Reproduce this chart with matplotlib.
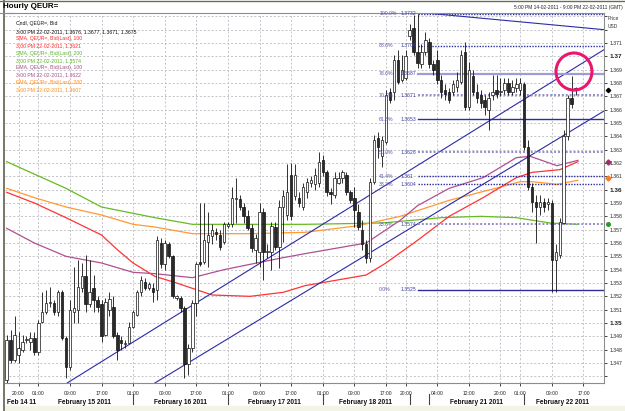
import matplotlib
matplotlib.use('Agg')
import matplotlib.pyplot as plt
import matplotlib.transforms as mtransforms
from matplotlib.patches import Ellipse, Rectangle
from matplotlib.lines import Line2D
import numpy as np

plt.rcParams['font.family'] = ['Liberation Sans', 'DejaVu Sans']

# ---------------- data ----------------
opens = [
1.3457,1.3487,1.3472,1.3476,1.3480,1.3487,1.3486,1.3489,1.3478,1.3501,
1.3508,1.3515,1.3515,1.3508,1.3523,1.3489,1.3467,1.3508,1.3510,1.3526,
1.3535,1.3514,1.3526,1.3517,1.3514,1.3491,1.3510,1.3512,1.3491,1.3487,
1.3484,1.3485,1.3497,1.3506,1.3523,1.3531,1.3526,1.3526,1.3525,1.3560,
1.3544,1.3559,1.3550,1.3519,1.3519,1.3511,1.3469,1.3481,1.3515,1.3546,
1.3546,1.3561,1.3565,1.3568,1.3566,1.3561,1.3573,1.3574,1.3593,1.3593,
1.3587,1.3580,1.3571,1.3555,1.3553,1.3583,1.3553,1.3553,1.3572,1.3557,
1.3587,1.3581,1.3611,1.3595,1.3594,1.3587,1.3598,1.3605,1.3604,1.3605,
1.3622,1.3613,1.3598,1.3596,1.3605,1.3609,1.3611,1.3598,1.3594,1.3583,
1.3570,1.3559,1.3549,1.3606,1.3639,1.3625,1.3636,1.3673,1.3673,1.3697,
1.3682,1.3684,1.3715,1.3721,1.3703,1.3694,1.3703,1.3711,1.3694,1.3697,
1.3682,1.3675,1.3673,1.3673,1.3677,1.3681,1.3703,1.3662,1.3685,1.3673,
1.3671,1.3667,1.3660,1.3671,1.3675,1.3673,1.3675,1.3680,1.3673,1.3676,
1.3675,1.3679,1.3632,1.3602,1.3591,1.3587,1.3591,1.3589,1.3590,1.3547,
1.3551,1.3575,1.3640,1.3669,1.3676]
highs = [
1.3491,1.3495,1.3505,1.3493,1.3491,1.3490,1.3493,1.3493,1.3502,1.3523,
1.3525,1.3527,1.3517,1.3525,1.3525,1.3490,1.3517,1.3542,1.3547,1.3545,
1.3551,1.3547,1.3536,1.3520,1.3517,1.3519,1.3523,1.3520,1.3493,1.3490,
1.3487,1.3501,1.3510,1.3525,1.3535,1.3534,1.3531,1.3530,1.3565,1.3564,
1.3562,1.3561,1.3551,1.3521,1.3520,1.3513,1.3484,1.3517,1.3546,1.3590,
1.3590,1.3583,1.3574,1.3571,1.3570,1.3576,1.3576,1.3602,1.3609,1.3596,
1.3590,1.3585,1.3574,1.3567,1.3590,1.3586,1.3559,1.3576,1.3576,1.3592,
1.3600,1.3619,1.3620,1.3619,1.3598,1.3605,1.3609,1.3610,1.3616,1.3628,
1.3626,1.3615,1.3601,1.3613,1.3613,1.3615,1.3613,1.3600,1.3602,1.3589,
1.3577,1.3562,1.3609,1.3641,1.3643,1.3640,1.3675,1.3676,1.3701,1.3705,
1.3701,1.3705,1.3724,1.3731,1.3732,1.3709,1.3718,1.3714,1.3697,1.3705,
1.3686,1.3679,1.3676,1.3682,1.3688,1.3705,1.3711,1.3696,1.3690,1.3679,
1.3675,1.3671,1.3673,1.3686,1.3686,1.3684,1.3684,1.3684,1.3682,1.3684,
1.3684,1.3681,1.3637,1.3605,1.3596,1.3596,1.3594,1.3594,1.3592,1.3559,
1.3579,1.3645,1.3671,1.3685,1.3677]
lows = [
1.3455,1.3470,1.3471,1.3470,1.3478,1.3485,1.3480,1.3476,1.3476,1.3500,
1.3507,1.3512,1.3506,1.3505,1.3487,1.3459,1.3465,1.3500,1.3500,1.3523,
1.3508,1.3512,1.3508,1.3508,1.3486,1.3490,1.3505,1.3489,1.3472,1.3480,
1.3481,1.3484,1.3496,1.3505,1.3520,1.3525,1.3525,1.3516,1.3517,1.3541,
1.3540,1.3549,1.3519,1.3517,1.3508,1.3459,1.3461,1.3478,1.3505,1.3543,
1.3544,1.3542,1.3559,1.3562,1.3555,1.3559,1.3571,1.3572,1.3575,1.3585,
1.3575,1.3570,1.3553,1.3545,1.3542,1.3532,1.3549,1.3540,1.3555,1.3541,
1.3561,1.3577,1.3577,1.3592,1.3587,1.3585,1.3594,1.3602,1.3600,1.3602,
1.3610,1.3595,1.3589,1.3594,1.3604,1.3605,1.3596,1.3590,1.3572,1.3570,
1.3555,1.3545,1.3546,1.3604,1.3624,1.3617,1.3634,1.3665,1.3667,1.3679,
1.3681,1.3682,1.3712,1.3701,1.3691,1.3691,1.3701,1.3691,1.3686,1.3679,
1.3669,1.3667,1.3665,1.3671,1.3673,1.3679,1.3660,1.3660,1.3671,1.3665,
1.3661,1.3656,1.3645,1.3667,1.3669,1.3670,1.3672,1.3671,1.3671,1.3673,
1.3671,1.3630,1.3600,1.3583,1.3560,1.3581,1.3583,1.3585,1.3523,1.3523,
1.3549,1.3574,1.3637,1.3661,1.3671]
closes = [
1.3487,1.3472,1.3491,1.3481,1.3486,1.3488,1.3489,1.3478,1.3500,1.3508,
1.3515,1.3516,1.3508,1.3523,1.3489,1.3467,1.3510,1.3511,1.3527,1.3535,
1.3514,1.3523,1.3517,1.3512,1.3490,1.3516,1.3518,1.3490,1.3480,1.3485,
1.3485,1.3497,1.3508,1.3523,1.3532,1.3526,1.3529,1.3523,1.3562,1.3544,
1.3560,1.3550,1.3520,1.3520,1.3511,1.3469,1.3481,1.3515,1.3544,1.3544,
1.3562,1.3566,1.3570,1.3567,1.3557,1.3574,1.3574,1.3594,1.3594,1.3587,
1.3580,1.3571,1.3556,1.3564,1.3583,1.3553,1.3554,1.3573,1.3557,1.3587,
1.3595,1.3598,1.3580,1.3611,1.3590,1.3602,1.3606,1.3607,1.3611,1.3621,
1.3613,1.3598,1.3597,1.3609,1.3609,1.3613,1.3598,1.3592,1.3585,1.3572,
1.3559,1.3549,1.3606,1.3637,1.3632,1.3637,1.3671,1.3667,1.3697,1.3681,
1.3690,1.3700,1.3720,1.3703,1.3695,1.3703,1.3712,1.3694,1.3690,1.3682,
1.3673,1.3672,1.3667,1.3679,1.3682,1.3701,1.3662,1.3690,1.3673,1.3669,
1.3665,1.3662,1.3669,1.3673,1.3672,1.3674,1.3680,1.3673,1.3677,1.3679,
1.3680,1.3632,1.3602,1.3591,1.3587,1.3591,1.3587,1.3591,1.3547,1.3553,
1.3576,1.3640,1.3669,1.3664,1.3675]

# moving averages (bar index, price)
sma100_x = [0, 7, 15, 24, 28, 32, 37.5, 43, 52, 61.6, 70, 75.5, 91, 96, 104, 112, 120.6, 129, 133, 140, 144.6]
sma100_y = [1.3598, 1.3590, 1.3579, 1.3566, 1.3555, 1.3545, 1.3535, 1.3530, 1.3521, 1.3520, 1.3523,
            1.3528, 1.3536, 1.3545, 1.3562, 1.3580, 1.3594, 1.3609, 1.3613, 1.3615, 1.3621]
sma200_x = [0, 15, 24, 37.5, 47, 61.6, 75.5, 95, 110, 120, 129, 137.5, 144.6]
sma200_y = [1.3621, 1.3601, 1.3587, 1.3579, 1.3574, 1.3574, 1.3574, 1.3575, 1.3579, 1.3580, 1.3579, 1.3575, 1.3574]
ema100_x = [0, 7, 15, 24, 32, 37.5, 47, 55, 61.6, 70, 75.5, 91, 99.6, 104, 112, 120.6, 129, 132.5, 139.3, 144.6]
ema100_y = [1.3571, 1.3560, 1.3550, 1.3545, 1.3538, 1.3537, 1.3534, 1.3540, 1.3544, 1.3549, 1.3552,
            1.3560, 1.3577, 1.3588, 1.3601, 1.3609, 1.3624, 1.3625, 1.3618, 1.3622]
ema200_x = [0, 7, 15, 24, 32, 37.5, 47, 61.6, 75.5, 89, 99.6, 112, 125, 130, 133, 139.3, 144.6]
ema200_y = [1.3601, 1.3594, 1.3587, 1.3581, 1.3574, 1.3572, 1.3567, 1.3567, 1.3568, 1.3573, 1.3580,
            1.3592, 1.3602, 1.3606, 1.3606, 1.3604, 1.3607]

# Fibonacci retracement
fib_pcts = ['100.0%', '88.6%', '78.6%', '70.7%', '61.8%', '50.0%', '41.4%', '38.2%', '23.6%', '0.0%']
fib_vals = [1.3732, 1.3708, 1.3687, 1.3671, 1.3653, 1.3628, 1.3610, 1.3604, 1.3574, 1.3525]
fib_txt = ['1.3732', '1.3708', '1.3687', '1.3671', '1.3653', '1.3628', '1.361', '1.3604', '1.3574', '1.3525']
fib_kind = ['dd', 'dd', 'ls', 'ld', 'sd', 'ld', 'dd', 'dd', 'ld', 'sd']

# trend lines (bar index, price)
trend_lines = [((15.3, 1.3455), (151.2, 1.3705)),
               ((37.5, 1.3455), (151.2, 1.3659)),
               ((107.9, 1.3732), (151.2, 1.3720))]

# x axis
tick_pos = [3, 8, 16, 24, 32, 40, 48, 56, 64, 72, 80, 88, 96, 101, 109, 117, 125, 130, 138, 146]
tick_lab = ['20:00', '01:00', '09:00', '17:00', '01:00', '09:00', '17:00', '01:00', '09:00', '17:00',
            '01:00', '09:00', '17:00', '20:00', '04:00', '12:00', '20:00', '01:00', '09:00', '17:00']
date_lab = ['Feb 14 11', 'February 15 2011', 'February 16 2011', 'February 17 2011',
            'February 18 2011', 'February 21 2011', 'February 22 2011']
date_pos = [0.1, 19.8, 43.9, 67.9, 90.7, 118.8, 140.8]
sep_pos = [32, 56, 80, 102, 107, 131]

yticks = [round(1.346 + 0.001 * k, 3) for k in range(28)]

legend_lines = [
    ('Cndl, QEUR=, Bid', '#111111'),
    ('3:00 PM 22-02-2011, 1.3676, 1.3677, 1.3671, 1.3675', '#111111'),
    ('SMA, QEUR=, Bid(Last), 100', '#ff2a2a'),
    ('3:00 PM 22-02-2011, 1.3621', '#ff2a2a'),
    ('SMA, QEUR=, Bid(Last), 200', '#5bb52a'),
    ('3:00 PM 22-02-2011, 1.3574', '#5bb52a'),
    ('EMA, QEUR=, Bid(Last), 100', '#a4508c'),
    ('3:00 PM 22-02-2011, 1.3622', '#a4508c'),
    ('EMA, QEUR=, Bid(Last), 200', '#ff8c1a'),
    ('3:00 PM 22-02-2011, 1.3607', '#ff8c1a'),
]

# ---------------- figure ----------------
W, H = 625, 411
fig = plt.figure(figsize=(W / 100, H / 100), dpi=100)
fig.patch.set_facecolor('white')
ax = fig.add_axes([5 / W, 1 - 383 / H, 599 / W, 370 / H])
ax.set_xlim(-0.43, 151.2)
ax.set_ylim(1.3455, 1.37325)

# grid
for yv in yticks:
    ax.axhline(yv, color='#c2c2c8', lw=0.7, ls=(0, (2, 2)), zorder=0)
for xv in tick_pos:
    ax.axvline(xv, color='#c2c2c8', lw=0.7, ls=(0, (2, 2)), zorder=0)

# moving averages
ax.plot(sma200_x, sma200_y, color='#66bb22', lw=0.9, zorder=2)
ax.plot(ema200_x, ema200_y, color='#ff9933', lw=0.9, zorder=2)
ax.plot(sma100_x, sma100_y, color='#ff3333', lw=0.9, zorder=2)
ax.plot(ema100_x, ema100_y, color='#b0508f', lw=0.9, zorder=2)

# trend lines
for (x0, y0), (x1, y1) in trend_lines:
    ax.plot([x0, x1], [y0, y1], color='#2b2ba6', lw=0.8, zorder=2)

# fibonacci
for pct, val, txt, kind in zip(fib_pcts, fib_vals, fib_txt, fib_kind):
    if kind == 'sd':
        ax.plot([104, 151.2], [val, val], color='#2d2d9e', lw=1.0, zorder=2)
    elif kind == 'dd':
        ax.plot([104, 151.2], [val, val], color='#2d2d9e', lw=1.0, ls=(0, (1, 1)), zorder=2)
    elif kind == 'ls':
        ax.plot([104, 151.2], [val, val], color='#9c9cd8', lw=1.6, zorder=2)
    else:
        ax.plot([104, 151.2], [val, val], color='#8c8cd0', lw=1.4, ls=(0, (1, 1)), zorder=2)
    ax.text(94.3, val, pct, fontsize=3.7, color='#5656a8', va='center', ha='left', zorder=5)
    ax.text(99.6, val, txt, fontsize=3.7, color='#3c3c9c', va='center', ha='left', zorder=5)

# candles
x = np.arange(len(opens))
o = np.array(opens); h = np.array(highs); l = np.array(lows); c = np.array(closes)
ax.vlines(x, l, h, color='#111111', lw=0.6, zorder=3)
up = c >= o
body = np.maximum(np.abs(c - o), 0.00005)
ax.bar(x, body, bottom=np.minimum(o, c), width=0.62,
       color=np.where(up, 'white', '#2a2a2a'), edgecolor='#111111', linewidth=0.5, zorder=4)

# highlight circle
ax.add_patch(Ellipse((143.6, 1.36886), width=9.1, height=0.00278, fill=False,
                     ec='#e8186e', lw=2.2, zorder=6))

# axes styling
for s in ['top', 'right', 'bottom']:
    ax.spines[s].set_color('#8c8c8c')
    ax.spines[s].set_linewidth(0.8)
ax.spines['left'].set_visible(False)

ax.yaxis.tick_right()
ax.set_yticks(yticks)
ylabels = []
for yv in yticks:
    if yv in (1.346, 1.372, 1.373):
        ylabels.append('')
    elif abs(yv * 100 - round(yv * 100)) < 1e-6:
        ylabels.append('%.2f' % yv)
    else:
        ylabels.append('%.3f' % yv)
ax.set_yticklabels(ylabels)
ax.tick_params(axis='y', length=2.5, width=0.6, pad=1.5, labelsize=3.7, colors='#222222')
for t, yv in zip(ax.get_yticklabels(), yticks):
    if yv in (1.37, 1.36, 1.35):
        t.set_fontweight('bold')
        t.set_fontsize(4.6)

ax.set_xticks(tick_pos)
ax.set_xticklabels(tick_lab)
ax.tick_params(axis='x', length=2, width=0.6, pad=3.5, labelsize=3.6, colors='#222222')

trans = mtransforms.blended_transform_factory(ax.transData, ax.transAxes)
for lab, pos in zip(date_lab, date_pos):
    ax.text(pos, -0.0514, lab, transform=trans, fontsize=4.7, fontweight='bold',
            ha='left' if lab.startswith('Feb 14') else 'center', va='center', color='#111111')
for sp in sep_pos:
    ax.plot([sp, sp], [-0.031, -0.057], transform=trans, color='#444444', lw=0.8, clip_on=False)

# right-side markers
transr = mtransforms.blended_transform_factory(ax.transAxes, ax.transData)
ax.plot([1.006], [1.3675], marker='D', ms=2.2, color='black', transform=transr, clip_on=False)
ax.plot([1.006], [1.3621], marker='D', ms=2.6, color='#a0306a', transform=transr, clip_on=False)
ax.plot([1.006], [1.3609], marker='D', ms=2.6, color='#ff7a1a', transform=transr, clip_on=False)
ax.plot([1.006], [1.3574], marker='o', ms=2.6, color='#2a9a2a', transform=transr, clip_on=False)

# texts
fig.text(3 / W, 1 - 7 / H, 'Hourly QEUR=', fontsize=5.8, fontweight='bold', va='center', ha='left')
fig.text(623 / W, 1 - 7 / H, '5:00 PM 14-02-2011 - 9:00 PM 22-02-2011 (GMT)', fontsize=3.5,
         va='center', ha='right', color='#222222')
fig.text(608 / W, 1 - 18 / H, 'Price', fontsize=3.5, va='center', ha='left', color='#333333')
fig.text(608 / W, 1 - 26 / H, 'USD', fontsize=3.5, va='center', ha='left', color='#333333')
for k, (txt, col) in enumerate(legend_lines):
    fig.text(16 / W, 1 - (24 + 7.3 * k) / H, txt, fontsize=3.7, color=col, va='center', ha='left')

# frame lines of the window
fig.add_artist(Line2D([3.5 / W, 3.5 / W], [0, 1], color='#6c6c5c', lw=1.3))
fig.add_artist(Line2D([0, 1], [1 - 0.6 / H, 1 - 0.6 / H], color='#6c6c5c', lw=1.0))
fig.add_artist(Rectangle((4 / W, 0), 1, 5 / H, transform=fig.transFigure, color='#f3f3e6', zorder=-1))
fig.add_artist(Line2D([0, 13 / W], [1 - 13 / H, 1 - 13 / H], color='#8c8c8c', lw=0.8))

fig.savefig('out.png', dpi=100)
